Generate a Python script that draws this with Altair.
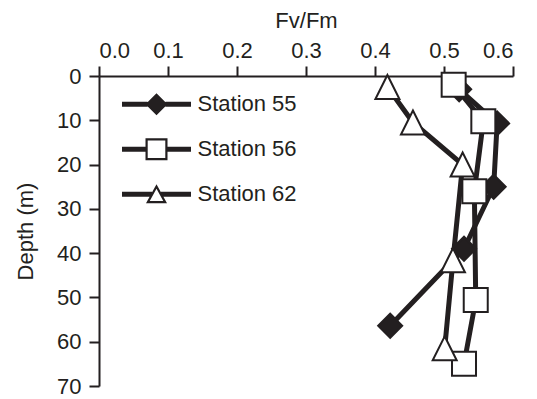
import altair as alt
import pandas as pd

stations = ["Station 55", "Station 56", "Station 62"]

st55_fv = [0.522, 0.577, 0.572, 0.529, 0.422]
st55_depth = [3, 10.7, 25, 39, 56.4]
st56_fv = [0.514, 0.557, 0.544, 0.546, 0.529]
st56_depth = [2, 10.2, 26, 50.6, 65]
st62_fv = [0.418, 0.455, 0.527, 0.513, 0.501]
st62_depth = [2.5, 10.5, 20, 41.6, 61.5]

x_ticks = [0.0, 0.1, 0.2, 0.3, 0.4, 0.5, 0.6]
y_ticks = [0, 10, 20, 30, 40, 50, 60, 70]

rows = []
for name, fv, dep in [(stations[0], st55_fv, st55_depth),
                      (stations[1], st56_fv, st56_depth),
                      (stations[2], st62_fv, st62_depth)]:
    for i, (f, d) in enumerate(zip(fv, dep)):
        rows.append({"station": name, "fv": f, "depth": d, "idx": i})
df = pd.DataFrame(rows)

INK = "#231f20"
FONT = "Liberation Sans"
FS = 22

# legend symbols: thick line with marker in the middle (filled path, holes for open markers)
line_l = "M-3.45,-0.25H-0.9V0.25H-3.45Z"
line_r = "M0.9,-0.25H3.45V0.25H0.9Z"
diamond_path = line_l + "M0,-1.1L1.1,0L0,1.1L-1.1,0Z" + line_r
square_path = ("M-3.45,-0.25H-1.0V0.25H-3.45Z"
               "M-1.1,-1.1H1.1V1.1H-1.1Z"
               "M-0.88,-0.88V0.88H0.88V-0.88Z"
               "M1.0,-0.25H3.45V0.25H1.0Z")
tri_path = ("M-3.45,-0.25H-0.45V0.25H-3.45Z"
            "M0,-1L1.05,0.9L-1.05,0.9Z"
            "M0,-0.545L-0.677,0.681L0.677,0.681Z"
            "M0.45,-0.25H3.45V0.25H0.45Z")

xs = alt.X("fv:Q", title="Fv/Fm",
           scale=alt.Scale(domain=[0, 0.6], nice=False, zero=False),
           axis=alt.Axis(orient="top", values=x_ticks, format=".1f",
                         labelPadding=3.5, titlePadding=7))
ys = alt.Y("depth:Q", title="Depth (m)",
           scale=alt.Scale(domain=[0, 70], reverse=True, nice=False),
           axis=alt.Axis(orient="left", values=y_ticks,
                         labelPadding=8, titlePadding=19))

base = alt.Chart(df)

lines = base.mark_line(color=INK, strokeWidth=5).encode(
    x=xs, y=ys, detail="station:N", order=alt.Order("idx:Q")
)

points = base.mark_point(filled=True, stroke=INK, strokeWidth=2, opacity=1).encode(
    x=xs, y=ys,
    shape=alt.Shape("station:N",
                    scale=alt.Scale(domain=stations,
                                    range=["diamond", "square", "M0,-1L-1,1L1,1Z"]),
                    legend=None),
    fill=alt.Fill("station:N",
                  scale=alt.Scale(domain=stations, range=[INK, "white", "white"]),
                  legend=None),
    size=alt.Size("station:N",
                  scale=alt.Scale(domain=stations, range=[576, 576, 441]),
                  legend=None),
)

legend_layer = base.mark_point(filled=True, color=INK, size=0, strokeWidth=0).encode(
    x=xs, y=ys,
    shape=alt.Shape("station:N",
                    scale=alt.Scale(domain=stations,
                                    range=[diamond_path, square_path, tri_path]),
                    legend=alt.Legend(title=None, orient="none",
                                      legendX=46.5, legendY=17.3,
                                      padding=0, rowPadding=23,
                                      symbolSize=400, symbolStrokeWidth=0,
                                      symbolFillColor=INK, symbolOpacity=1,
                                      labelOffset=30, labelFontSize=FS,
                                      labelFont=FONT, labelColor=INK)),
)

chart = alt.layer(lines, points, legend_layer).resolve_scale(
    shape="independent"
).properties(
    width=414, height=310,
    autosize=alt.AutoSizeParams(type="none"),
    padding={"left": 91, "top": 68, "right": 16, "bottom": 14},
).configure_view(
    stroke=None
).configure_axis(
    grid=False,
    domainColor=INK, domainWidth=2,
    tickColor=INK, tickWidth=2, tickSize=10,
    labelFont=FONT, labelFontSize=FS, labelColor=INK,
    titleFont=FONT, titleFontSize=FS, titleFontWeight="normal", titleColor=INK,
)

chart.save("out.html", embed_options={"renderer": "svg", "actions": False})
